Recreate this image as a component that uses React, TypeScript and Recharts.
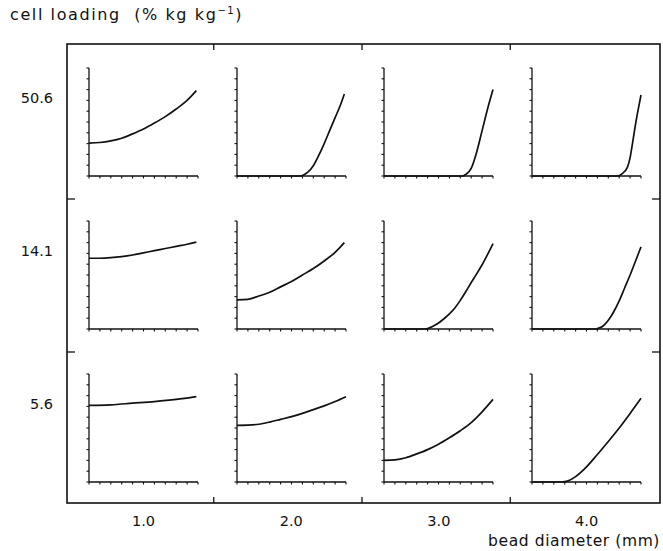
import { LineChart, Line, XAxis, YAxis } from "recharts";

// row / column labels of the grid
const loadings = ["50.6", "14.1", "5.6"];
const diameters = ["1.0", "2.0", "3.0", "4.0"];
const axisTicks = [0, 1, 2, 3, 4, 5, 6, 7, 8, 9, 10];

// [position along bead (tick units), value (tick units)]
const c50_10 = [[0, 3.05], [1, 3.1], [2, 3.25], [3, 3.5], [4, 3.9], [5, 4.35], [6, 4.9], [7, 5.5], [8, 6.2], [9, 7.0], [9.85, 7.9]];
const c50_20 = [[0, 0], [5.75, 0], [6, 0.05], [6.5, 0.35], [7, 0.95], [7.5, 1.9], [8, 3.0], [8.5, 4.2], [9, 5.4], [9.5, 6.6], [9.85, 7.6]];
const c50_30 = [[0, 0], [7.2, 0], [7.5, 0.15], [8, 0.7], [8.5, 2.2], [9, 4.2], [9.5, 6.2], [10, 8.0]];
const c50_40 = [[0, 0], [7.85, 0], [8.25, 0.2], [8.75, 0.8], [9, 1.7], [9.25, 3.2], [9.5, 4.8], [9.75, 6.2], [10, 7.5]];

const c14_10 = [[0, 6.55], [1, 6.55], [2, 6.6], [3, 6.7], [4, 6.85], [5, 7.05], [6, 7.25], [7, 7.45], [8, 7.65], [9, 7.85], [9.85, 8.05]];
const c14_20 = [[0, 2.7], [1, 2.75], [2, 3.05], [3, 3.4], [4, 3.9], [5, 4.4], [6, 5.0], [7, 5.6], [8, 6.3], [9, 7.1], [9.85, 8.0]];
const c14_30 = [[0, 0], [3.7, 0], [4, 0.05], [4.5, 0.25], [5, 0.55], [5.5, 0.95], [6, 1.4], [6.5, 1.95], [7, 2.65], [7.5, 3.45], [8, 4.3], [8.5, 5.1], [9, 5.95], [9.5, 6.9], [10, 7.9]];
const c14_40 = [[0, 0], [5.7, 0], [6, 0.05], [6.5, 0.25], [7, 0.8], [7.5, 1.6], [8, 2.6], [8.5, 3.8], [9, 5.0], [9.5, 6.3], [10, 7.6]];

const c56_10 = [[0, 7.1], [2, 7.15], [4, 7.3], [6, 7.45], [8, 7.65], [9.85, 7.9]];
const c56_20 = [[0, 5.25], [1, 5.27], [2, 5.35], [3, 5.55], [4, 5.8], [5, 6.05], [6, 6.35], [7, 6.7], [8, 7.05], [9, 7.45], [10, 7.9]];
const c56_30 = [[0, 2.0], [1, 2.05], [2, 2.25], [3, 2.6], [4, 3.0], [5, 3.5], [6, 4.1], [7, 4.75], [8, 5.5], [9, 6.5], [10, 7.65]];
const c56_40 = [[0, 0], [2.75, 0], [3.25, 0.08], [4, 0.5], [5, 1.4], [6, 2.55], [7, 3.75], [8, 5.0], [9, 6.35], [10, 7.75]];

const curves = [
  [c50_10, c50_20, c50_30, c50_40],
  [c14_10, c14_20, c14_30, c14_40],
  [c56_10, c56_20, c56_30, c56_40],
];

const FONT = "'DejaVu Sans', sans-serif";
const PW = 109; // plot width of one panel
const PH = 108; // plot height of one panel
const COL_X = 89; // left of first panel's plot area
const COL_STEP = 147.7;
const ROW_Y = 67.5;
const ROW_STEP = 153.4;

// keep the tick marks but draw no tick labels
const NoLabel = () => <g />;

function Panel({ points, left, top }: { points: number[][]; left: number; top: number }) {
  const data = points.map(([x, y]) => ({ x, y }));
  return (
    <div style={{ position: "absolute", left: left - 6, top: top - 2 }}>
      <LineChart width={PW + 8} height={PH + 8} data={data} margin={{ top: 2, right: 2, left: 0, bottom: 0 }}>
        <XAxis
          dataKey="x"
          type="number"
          domain={[0, 10]}
          ticks={axisTicks}
          interval={0}
          tick={NoLabel}
          tickLine={{ stroke: "#111", strokeWidth: 1.1 }}
          tickSize={2.5}
          height={6}
          stroke="#111"
          strokeWidth={1.3}
        />
        <YAxis
          type="number"
          domain={[0, 10]}
          ticks={axisTicks}
          interval={0}
          tick={NoLabel}
          tickLine={{ stroke: "#111", strokeWidth: 1.1 }}
          tickSize={2.5}
          width={6}
          stroke="#111"
          strokeWidth={1.3}
        />
        <Line dataKey="y" type="monotone" stroke="#111" strokeWidth={1.7} dot={false} isAnimationActive={false} />
      </LineChart>
    </div>
  );
}

export default function App() {
  const boxL = 67, boxT = 44, boxR = 660, boxB = 503;
  const colDiv = [1, 2, 3].map((i) => boxL + (boxR - boxL) * i / 4 - 1.5);
  const rowDiv = [199, 352];
  return (
    <div style={{ position: "absolute", left: 0, top: 0, width: 663, height: 551, background: "#fff", fontFamily: FONT, color: "#111" }}>
      <svg width={663} height={551} style={{ position: "absolute", left: 0, top: 0 }}>
        <rect x={boxL} y={boxT} width={boxR - boxL} height={boxB - boxT} fill="none" stroke="#111" strokeWidth={1.6} />
        {colDiv.map((x) => (
          <g key={x}>
            <line x1={x} y1={boxT} x2={x} y2={boxT + 6} stroke="#111" strokeWidth={1.3} />
            <line x1={x} y1={boxB} x2={x} y2={boxB - 6} stroke="#111" strokeWidth={1.3} />
          </g>
        ))}
        {rowDiv.map((y) => (
          <g key={y}>
            <line x1={boxL} y1={y} x2={boxL + 8} y2={y} stroke="#111" strokeWidth={1.3} />
            <line x1={boxR} y1={y} x2={boxR - 8} y2={y} stroke="#111" strokeWidth={1.3} />
          </g>
        ))}
      </svg>

      <div style={{ position: "absolute", left: 10, top: 5, fontSize: 16, letterSpacing: 1.6, whiteSpace: "nowrap", lineHeight: "20px" }}>
        cell loading&nbsp; (% kg kg<sup style={{ fontSize: 10, lineHeight: 0 }}>−1</sup>)
      </div>

      {loadings.map((t, r) => (
        <div key={t} style={{ position: "absolute", right: 663 - 53, top: ROW_Y + ROW_STEP * r + 30 - 9, fontSize: 14.5, lineHeight: "18px" }}>
          {t}
        </div>
      ))}

      {diameters.map((t, c) => (
        <div key={t} style={{ position: "absolute", left: COL_X + COL_STEP * c + PW / 2 - 30, width: 60, textAlign: "center", top: 512, fontSize: 14.5, lineHeight: "18px" }}>
          {t}
        </div>
      ))}

      <div style={{ position: "absolute", right: 3, top: 532, fontSize: 15.5, letterSpacing: 0.6, lineHeight: "18px", whiteSpace: "nowrap" }}>
        bead diameter (mm)
      </div>

      {curves.map((row, r) =>
        row.map((pts, c) => (
          <Panel key={`${r}-${c}`} points={pts} left={COL_X + COL_STEP * c} top={ROW_Y + ROW_STEP * r} />
        ))
      )}
    </div>
  );
}
